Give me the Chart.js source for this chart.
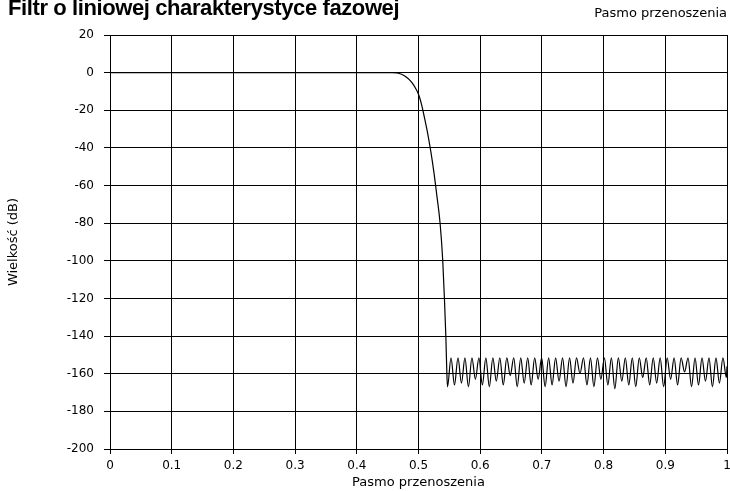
<!DOCTYPE html>
<html>

<head>
    <title>Filtr o liniowej charakterystyce fazowej</title>
    <script src="https://cdn.jsdelivr.net/npm/chart.js"></script>
    <style>
        body { margin: 0; background: #fff; }
        .chart-container { position: relative; width: 730px; height: 491px; }
    </style>
</head>

<body>
    <div class="chart-container">
        <canvas id="filterChart"></canvas>
    </div>

    <script>
        const chartTitle = "Filtr o liniowej charakterystyce fazowej";
        const cornerLabel = "Pasmo przenoszenia";
        const xTitle = "Pasmo przenoszenia";
        const yTitle = "Wielkość (dB)";

        // znormalizowana częstotliwość
        const freq = [
            0, 0.1, 0.2, 0.3, 0.4, 0.44, 0.455, 0.465, 0.47, 0.475, 0.48, 0.485, 0.49, 0.495, 0.5,
            0.505, 0.51, 0.515, 0.52, 0.525, 0.53, 0.535, 0.5393, 0.542, 0.5443, 0.5458, 0.547,
            0.5527, 0.5583, 0.5640, 0.5696, 0.5753, 0.5809, 0.5866, 0.5922, 0.5979, 0.6035,
            0.6092, 0.6148, 0.6205, 0.6261, 0.6318, 0.6374, 0.6431, 0.6487, 0.6544, 0.6600,
            0.6657, 0.6713, 0.6770, 0.6826, 0.6883, 0.6939, 0.6996, 0.7052, 0.7109, 0.7165,
            0.7222, 0.7278, 0.7335, 0.7391, 0.7448, 0.7504, 0.7561, 0.7617, 0.7674, 0.7730,
            0.7787, 0.7843, 0.7900, 0.7956, 0.8013, 0.8069, 0.8126, 0.8182, 0.8239, 0.8295,
            0.8352, 0.8408, 0.8465, 0.8521, 0.8578, 0.8634, 0.8691, 0.8747, 0.8804, 0.8860,
            0.8917, 0.8973, 0.9030, 0.9086, 0.9143, 0.9199, 0.9256, 0.9312, 0.9369, 0.9425,
            0.9482, 0.9538, 0.9595, 0.9651, 0.9708, 0.9764, 0.9821, 0.9877, 0.9934, 0.9990, 1.0
        ];

        // wielkość w dB
        const magnitude = [
            0, 0, 0, 0, 0, 0, -0.05, -0.2, -0.6, -1.3, -2.3, -3.7, -5.6, -8.2, -11.5,
            -17, -24.5, -32.5, -42, -53, -66, -80, -100, -120, -140, -158, -167,
            -151.5, -166, -151.5, -165, -151.5, -167, -151.5, -163, -151.5, -166,
            -151.5, -167, -151.5, -164, -151.5, -166, -151.5, -161, -151.5, -167,
            -151.5, -165, -151.5, -166, -151.5, -163, -151.5, -167, -151.5, -166,
            -151.5, -164, -151.5, -167, -151.5, -165, -151.5, -160, -151.5, -166,
            -151.5, -167, -151.5, -163, -151.5, -166, -151.5, -168, -151.5, -164,
            -151.5, -166, -151.5, -167, -151.5, -162, -151.5, -166, -151.5, -165,
            -151.5, -167, -151.5, -163, -151.5, -166, -151.5, -159, -151.5, -167,
            -151.5, -166, -151.5, -164, -151.5, -167, -151.5, -165, -151.5, -162, -156
        ];

        const points = freq.map((f, i) => ({ x: f, y: magnitude[i] }));

        // tytuł u góry (częściowo ucięty) i napis w prawym rogu
        const headerTexts = {
            id: "headerTexts",
            afterDraw(chart) {
                const ctx = chart.ctx;
                ctx.save();
                ctx.fillStyle = "#000";
                ctx.font = "bold 22px 'Liberation Sans', Arial, sans-serif";
                ctx.letterSpacing = "-0.4px";
                ctx.textAlign = "left";
                ctx.textBaseline = "alphabetic";
                ctx.fillText(chartTitle, 8, 15);
                ctx.letterSpacing = "0px";
                ctx.font = "13px 'DejaVu Sans', sans-serif";
                ctx.textAlign = "right";
                ctx.fillText(cornerLabel, 727, 17);
                ctx.restore();
            }
        };

        const ctx = document.getElementById("filterChart").getContext("2d");
        new Chart(ctx, {
            type: "line",
            data: {
                datasets: [{
                    data: points,
                    borderColor: "#000",
                    borderWidth: 1.2,
                    pointRadius: 0,
                    fill: false,
                    cubicInterpolationMode: "monotone"
                }]
            },
            options: {
                responsive: true,
                maintainAspectRatio: false,
                animation: false,
                layout: { padding: { top: 35, right: 3, left: 0, bottom: 0 } },
                plugins: { legend: { display: false }, tooltip: { enabled: false } },
                scales: {
                    x: {
                        type: "linear",
                        min: 0,
                        max: 1,
                        ticks: {
                            stepSize: 0.1,
                            color: "#000",
                            padding: 5,
                            maxRotation: 0,
                            font: { family: "'DejaVu Sans', sans-serif", size: 12 },
                            callback: v => String(+v.toFixed(1))
                        },
                        grid: { color: "#000", tickLength: 5 },
                        border: { color: "#000" },
                        title: {
                            display: true,
                            text: xTitle,
                            color: "#000",
                            padding: { top: 0, bottom: 1 },
                            font: { family: "'DejaVu Sans', sans-serif", size: 13 }
                        },
                        afterFit: s => {
                            s.height = 42;
                            s.paddingLeft = 0;
                            s.paddingRight = 0;
                        }
                    },
                    y: {
                        min: -200,
                        max: 20,
                        ticks: {
                            stepSize: 20,
                            color: "#000",
                            padding: 10,
                            font: { family: "'DejaVu Sans', sans-serif", size: 12 }
                        },
                        grid: { color: "#000", tickLength: 6 },
                        border: { color: "#000" },
                        title: {
                            display: true,
                            text: yTitle,
                            color: "#000",
                            padding: { top: 6, bottom: 0 },
                            font: { family: "'DejaVu Sans', sans-serif", size: 13 }
                        },
                        afterFit: s => {
                            s.width = 110;
                            s.paddingTop = 0;
                            s.paddingBottom = 0;
                        }
                    }
                }
            },
            plugins: [headerTexts]
        });
    </script>
</body>

</html>
